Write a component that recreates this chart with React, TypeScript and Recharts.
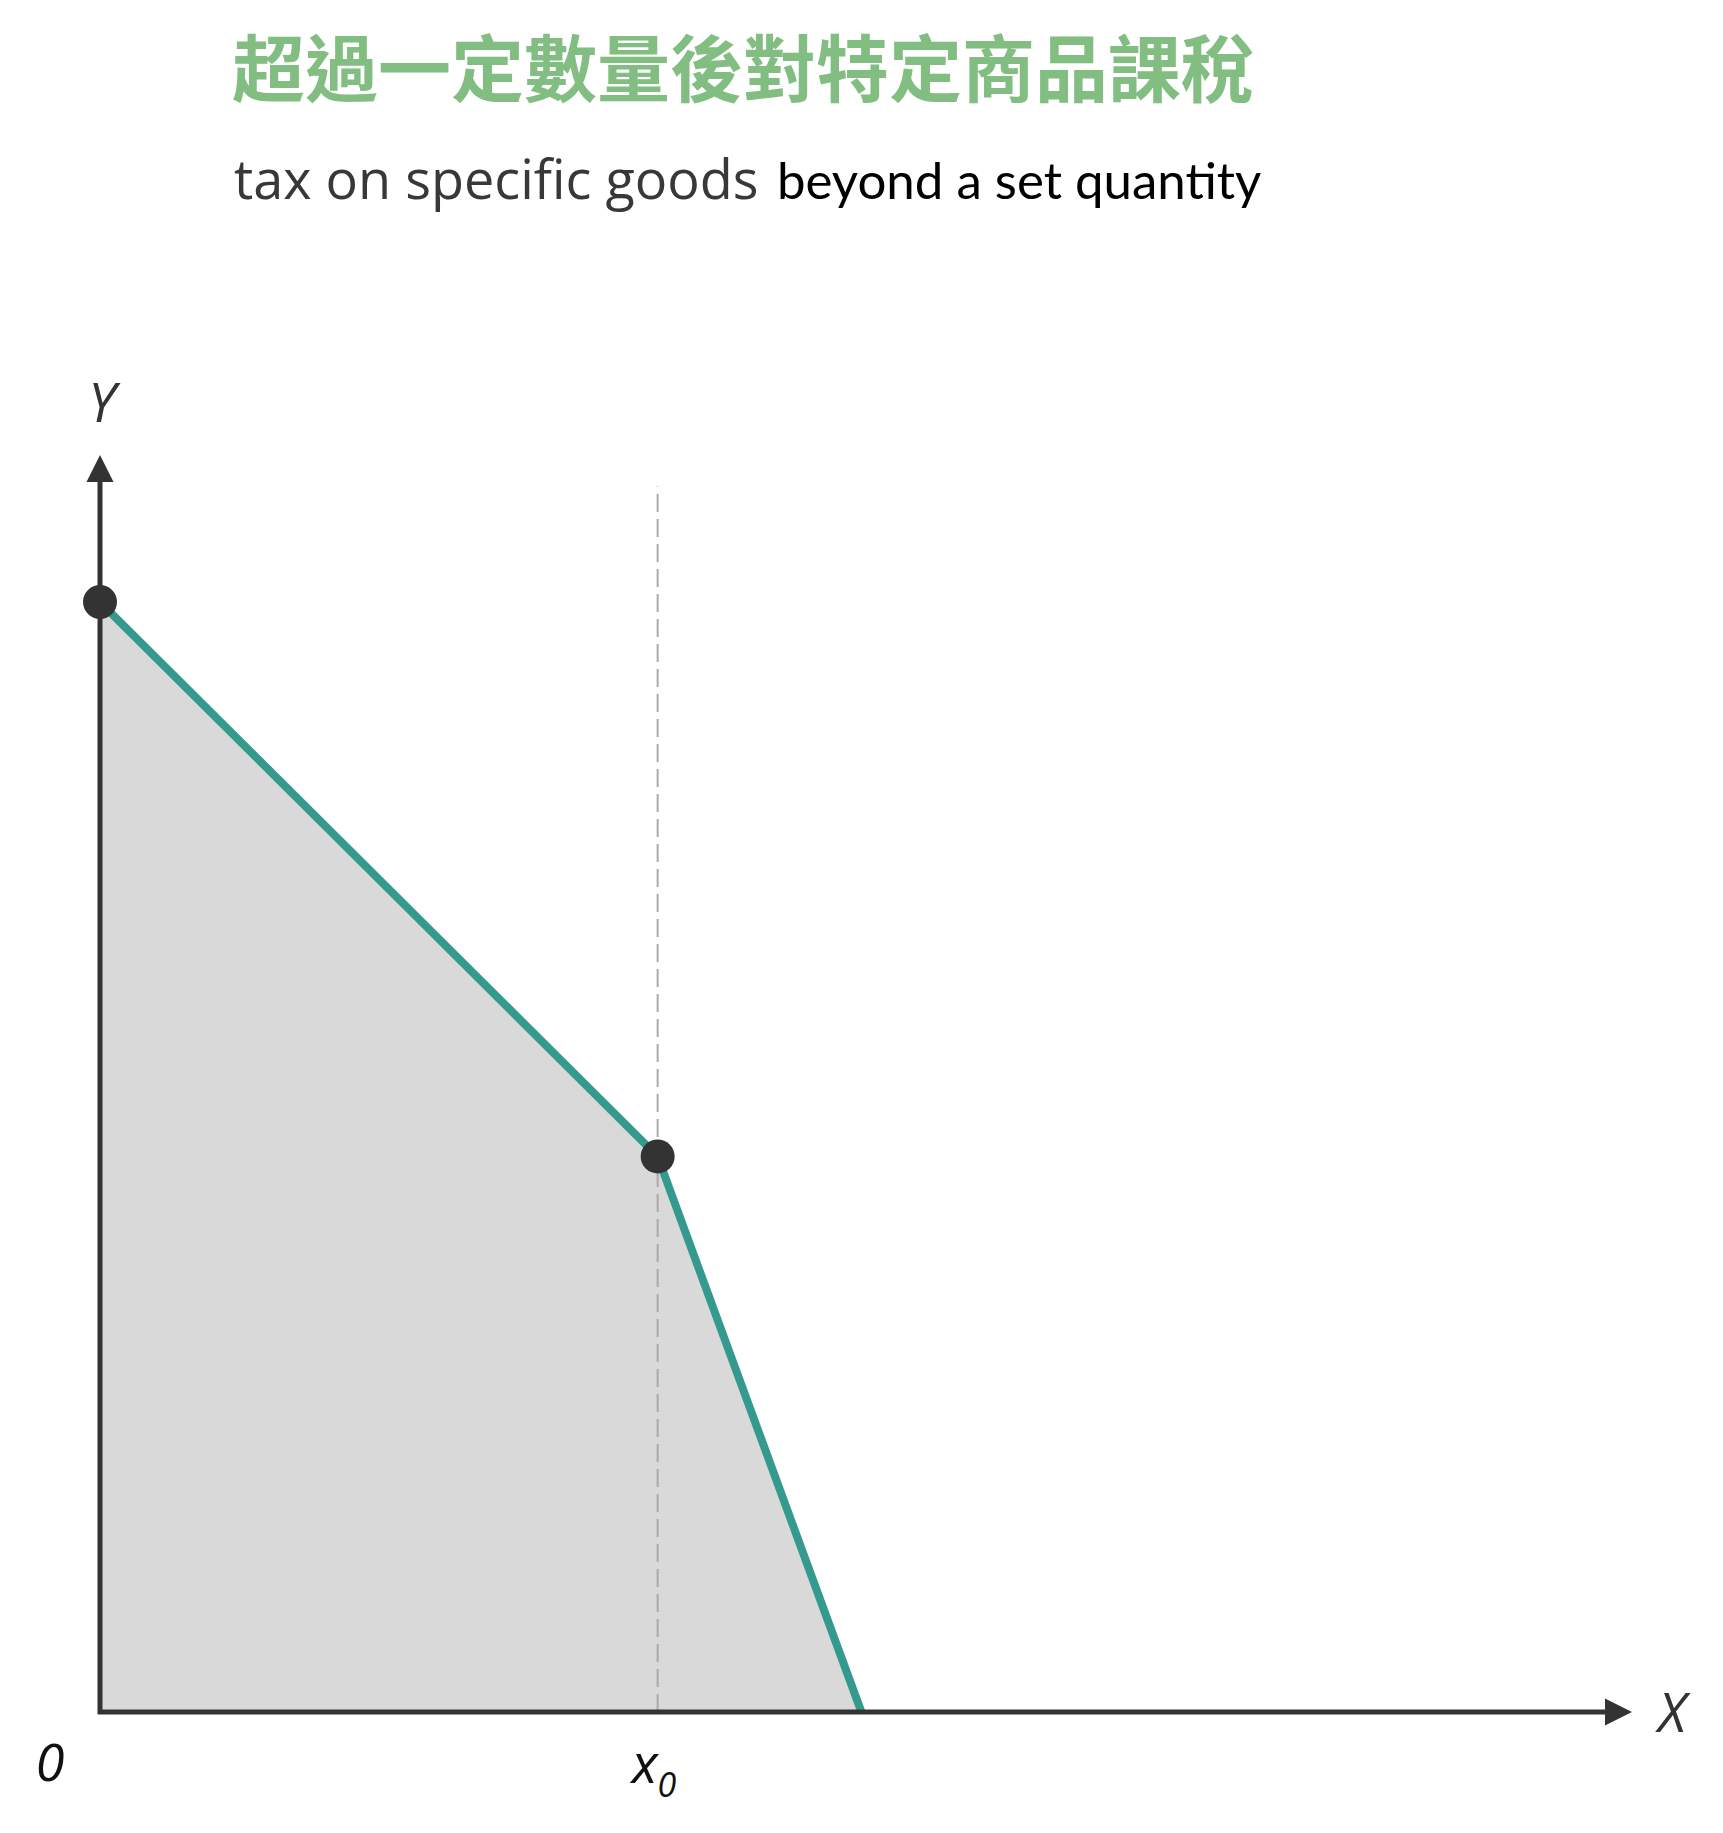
import React from 'react';
import {
  ComposedChart,
  Area,
  Scatter,
  XAxis,
  YAxis,
  ReferenceLine,
} from 'recharts';

// budget line (axis units 0..100)
const budgetX = [0, 36.4, 49.7];
const budgetY = [88.3, 44.2, 0];
// the two marked points: intercept and kink
const dotX = [0, 36.4];
const dotY = [88.3, 44.2];
// x0 guide line
const x0Value = 36.4;
const guideTop = 97.5;
const axisMax = 100;

const titleText = '超過一定數量後對特定商品課稅';
const subtitleA = 'tax on specific goods';
const subtitleB = 'beyond a set quantity';
const axisLabels = { x: 'X', y: 'Y', origin: '0', x0: 'x', x0Sub: '0' };

const budget = budgetX.map((x, i) => ({ x, y: budgetY[i] }));
const dots = dotX.map((x, i) => ({ x, y: dotY[i] }));

const AXIS = '#333333';
const TEAL = '#349a8e';
const LABEL_FONT = '"Open Sans", "DejaVu Sans", sans-serif';

function XAxisArrow(props: any) {
  const { x1, y1, x2, y2 } = props;
  const head = 27;
  return (
    <g>
      <line x1={x1 - 2} y1={y1} x2={x2 - head + 2} y2={y2} stroke={AXIS} strokeWidth={5} />
      <polygon points={`${x2},${y2} ${x2 - head},${y2 - 13.5} ${x2 - head},${y2 + 13.5}`} fill={AXIS} />
      <text x={x2 + 40} y={y2 + 20} textAnchor="middle" fontFamily={LABEL_FONT} fontStyle="italic" fontSize={54} fill={AXIS}>
        {axisLabels.x}
      </text>
    </g>
  );
}

function YAxisArrow(props: any) {
  const { x1, y1, x2, y2 } = props;
  const head = 27;
  return (
    <g>
      <line x1={x1} y1={y1 + 2} x2={x2} y2={y2 + head - 2} stroke={AXIS} strokeWidth={5} />
      <polygon points={`${x2},${y2} ${x2 - 13.5},${y2 + head} ${x2 + 13.5},${y2 + head}`} fill={AXIS} />
      <text x={x2 + 2} y={y2 - 33} textAnchor="middle" fontFamily={LABEL_FONT} fontStyle="italic" fontSize={54} fill={AXIS}>
        {axisLabels.y}
      </text>
      <text x={x1 - 50} y={y1 + 69} textAnchor="middle" fontFamily={LABEL_FONT} fontStyle="italic" fontSize={52} fill="#111">
        {axisLabels.origin}
      </text>
    </g>
  );
}

function GuideLine(props: any) {
  const { x1, y1, x2, y2 } = props;
  return (
    <g>
      <line x1={x1} y1={y1} x2={x2} y2={y2} stroke="#aaaaaa" strokeWidth={2} strokeDasharray="18 7" />
      <text x={x1 - 26} y={y1 + 71} fontFamily={LABEL_FONT} fontStyle="italic" fontSize={54} fill="#111">
        {axisLabels.x0}
        <tspan fontSize={34} dy={14}>{axisLabels.x0Sub}</tspan>
      </text>
    </g>
  );
}

function BigDot(props: any) {
  const { cx, cy } = props;
  return <circle cx={cx} cy={cy} r={17} fill={AXIS} />;
}

export default function App() {
  return (
    <div style={{ position: 'absolute', left: 0, top: 0, width: 1723, height: 1833, background: '#fff' }}>
      <svg width={1723} height={240} style={{ position: 'absolute', left: 0, top: 0 }}>
        <text x={232} y={96} fontFamily='"Noto Sans CJK TC", sans-serif' fontWeight={700} fontSize={73} fill="#82be82">
          {titleText}
        </text>
        <text y={199}>
          <tspan x={234} fontFamily='"Open Sans", sans-serif' fontSize={54} fill="#383838">{subtitleA}</tspan>
          <tspan x={777} fontFamily='Lato, "Open Sans", sans-serif' fontSize={51} fill="#000">{subtitleB}</tspan>
        </text>
      </svg>
      <ComposedChart
        width={1723}
        height={1833}
        margin={{ top: 455, right: 91, bottom: 121, left: 100 }}
        style={{ position: 'absolute', left: 0, top: 0 }}
      >
        <XAxis type="number" dataKey="x" domain={[0, axisMax]} hide />
        <YAxis type="number" domain={[0, axisMax]} hide />
        <ReferenceLine
          segment={[{ x: x0Value, y: 0 }, { x: x0Value, y: guideTop }]}
          shape={GuideLine}
        />
        <Area
          data={budget}
          dataKey="y"
          type="linear"
          fill="#d9d9d9"
          fillOpacity={1}
          stroke={TEAL}
          strokeWidth={8}
          dot={false}
          activeDot={false}
          isAnimationActive={false}
        />
        <ReferenceLine segment={[{ x: 0, y: 0 }, { x: axisMax, y: 0 }]} shape={XAxisArrow} />
        <ReferenceLine segment={[{ x: 0, y: 0 }, { x: 0, y: axisMax }]} shape={YAxisArrow} />
        <Scatter data={dots} dataKey="y" shape={BigDot} isAnimationActive={false} />
      </ComposedChart>
    </div>
  );
}
